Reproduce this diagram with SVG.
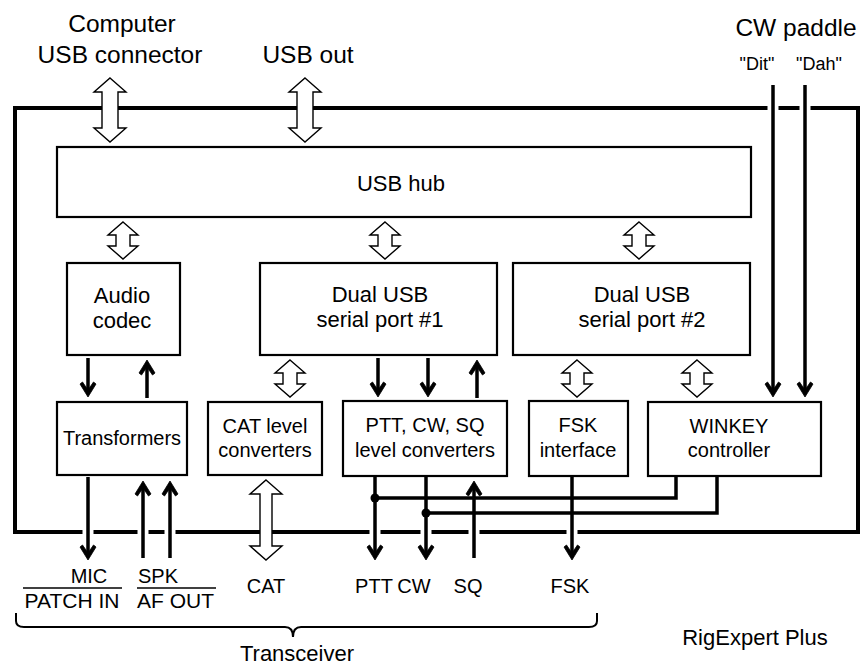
<svg xmlns="http://www.w3.org/2000/svg" width="863" height="668" viewBox="0 0 863 668">
<style>
text{font-family:"Liberation Sans",Arial,sans-serif;fill:#000;text-anchor:middle}
.t1{font-size:24.5px}
.t2{font-size:22px}
.t3{font-size:20px}
.t4{font-size:18px}
.box{fill:#fff;stroke:#000;stroke-width:2.2}
.outer{fill:none;stroke:#000;stroke-width:4}
.hol{fill:#fff;stroke:#000;stroke-width:1.4;stroke-linejoin:miter}
.w{fill:none;stroke:#000;stroke-width:3.5}
.gap{stroke:#fff;stroke-width:11}
.brace{fill:none;stroke:#000;stroke-width:2}
</style>
<defs>
<marker id="ah" markerUnits="userSpaceOnUse" markerWidth="20" markerHeight="20" viewBox="-12 -10 20 20" refX="0" refY="0" orient="auto">
<path d="M5,0 L-8,-8 L-10,-5.5 L-2,0 L-10,5.5 L-8,8 Z" fill="#000" stroke="#000" stroke-width="0.8"/>
</marker>
<path id="big" d="M0,0 L16,14 L8,14 L8,50 L16,50 L0,64 L-16,50 L-8,50 L-8,14 L-16,14 Z"/>
<path id="small" d="M0,0 L15,13 L7,13 L7,24 L15,24 L0,37 L-15,24 L-7,24 L-7,13 L-15,13 Z"/>
</defs>

<g id="frame">
<rect class="outer" x="15" y="108" width="843" height="424"/>
<line class="gap" x1="773" y1="102" x2="773" y2="114"/>
<line class="gap" x1="805" y1="102" x2="805" y2="114"/>
<line class="gap" x1="88" y1="526" x2="88" y2="538"/>
<line class="gap" x1="143" y1="526" x2="143" y2="538"/>
<line class="gap" x1="170" y1="526" x2="170" y2="538"/>
<line class="gap" x1="375" y1="526" x2="375" y2="538"/>
<line class="gap" x1="426" y1="526" x2="426" y2="538"/>
<line class="gap" x1="474" y1="526" x2="474" y2="538"/>
<line class="gap" x1="572" y1="526" x2="572" y2="538"/>
<text class="t2" x="755" y="645">RigExpert Plus</text>
</g>

<g id="usb-hub">
<rect class="box" x="57" y="147" width="694" height="70"/>
<text class="t2" x="401" y="191">USB hub</text>
</g>
<g id="audio-codec">
<rect class="box" x="67" y="263" width="113" height="92"/>
<text class="t2" x="122" y="303">Audio</text>
<text class="t2" x="122" y="328">codec</text>
</g>
<g id="serial1">
<rect class="box" x="260" y="263" width="237" height="92"/>
<text class="t2" x="380" y="302">Dual USB</text>
<text class="t2" x="380" y="327">serial port #1</text>
</g>
<g id="serial2">
<rect class="box" x="513" y="263" width="237" height="92"/>
<text class="t2" x="642" y="302">Dual USB</text>
<text class="t2" x="642" y="327">serial port #2</text>
</g>
<g id="transformers">
<rect class="box" x="57" y="402" width="130" height="73"/>
<text class="t3" x="122" y="445">Transformers</text>
</g>
<g id="cat-conv">
<rect class="box" x="208" y="402" width="114" height="73"/>
<text class="t3" x="265" y="433">CAT level</text>
<text class="t3" x="265" y="457">converters</text>
</g>
<g id="ptt-conv">
<rect class="box" x="343" y="401" width="164" height="75"/>
<text class="t3" x="425" y="432">PTT, CW, SQ</text>
<text class="t3" x="425" y="457">level converters</text>
</g>
<g id="fsk">
<rect class="box" x="529" y="401" width="99" height="75"/>
<text class="t3" x="578" y="432">FSK</text>
<text class="t3" x="578" y="457">interface</text>
</g>
<g id="winkey">
<rect class="box" x="648" y="402" width="173" height="74"/>
<text class="t3" x="729" y="433">WINKEY</text>
<text class="t3" x="729" y="457">controller</text>
</g>

<g id="connectors">
<use href="#big" class="hol" x="110" y="78"/>
<use href="#big" class="hol" x="305" y="78"/>
<use href="#small" class="hol" x="123" y="222"/>
<use href="#small" class="hol" x="385" y="222"/>
<use href="#small" class="hol" x="639" y="222"/>
<use href="#small" class="hol" x="290" y="360"/>
<use href="#small" class="hol" x="577" y="360"/>
<use href="#small" class="hol" x="697" y="360"/>
<path class="hol" d="M266,480 L282,494 L272,494 L272,546 L282,546 L266,560 L250,546 L260,546 L260,494 L250,494 Z"/>

<line class="w" x1="88" y1="358" x2="88" y2="392" marker-end="url(#ah)"/>
<line class="w" x1="147" y1="398" x2="147" y2="365" marker-end="url(#ah)"/>
<line class="w" x1="378" y1="358" x2="378" y2="392" marker-end="url(#ah)"/>
<line class="w" x1="428" y1="358" x2="428" y2="392" marker-end="url(#ah)"/>
<line class="w" x1="477" y1="398" x2="477" y2="365" marker-end="url(#ah)"/>
<line class="w" x1="773" y1="85" x2="773" y2="392" marker-end="url(#ah)"/>
<line class="w" x1="805" y1="85" x2="805" y2="392" marker-end="url(#ah)"/>

<line class="w" x1="88" y1="477" x2="88" y2="555" marker-end="url(#ah)"/>
<line class="w" x1="143" y1="558" x2="143" y2="486" marker-end="url(#ah)"/>
<line class="w" x1="170" y1="558" x2="170" y2="486" marker-end="url(#ah)"/>
<line class="w" x1="375" y1="477" x2="375" y2="555" marker-end="url(#ah)"/>
<line class="w" x1="426" y1="477" x2="426" y2="555" marker-end="url(#ah)"/>
<line class="w" x1="474" y1="558" x2="474" y2="486" marker-end="url(#ah)"/>
<line class="w" x1="572" y1="477" x2="572" y2="555" marker-end="url(#ah)"/>
<polyline class="w" points="375,498 676,498 676,477"/>
<polyline class="w" points="426,513 717,513 717,477"/>
<circle cx="375" cy="498" r="4.5" fill="#000"/>
<circle cx="426" cy="513" r="4.5" fill="#000"/>
</g>

<g id="labels">
<text class="t1" x="122" y="32">Computer</text>
<text class="t1" x="120" y="63">USB connector</text>
<text class="t1" x="308" y="63">USB out</text>
<text class="t1" x="796" y="36">CW paddle</text>
<text class="t4" x="757" y="70">"Dit"</text>
<text class="t4" x="819" y="70">"Dah"</text>
<text class="t3" x="89" y="583">MIC</text>
<line x1="23" y1="588" x2="122" y2="588" stroke="#000" stroke-width="1.5"/>
<text class="t3" x="72" y="608" style="font-size:21px">PATCH IN</text>
<text class="t3" x="138" y="583" style="text-anchor:start">SPK</text>
<line x1="137" y1="588" x2="216" y2="588" stroke="#000" stroke-width="1.5"/>
<text class="t3" x="137" y="608" style="text-anchor:start;font-size:21px">AF OUT</text>
<text class="t3" x="266" y="593">CAT</text>
<text class="t3" x="374" y="593">PTT</text>
<text class="t3" x="414" y="593">CW</text>
<text class="t3" x="468" y="593">SQ</text>
<text class="t3" x="570" y="593">FSK</text>
<path class="brace" d="M16,613 L16,621 Q16,627 24,627 L285,627 Q293,627 293,637 Q293,627 301,627 L589,627 Q597,627 597,621 L597,613"/>
<text class="t2" x="297" y="661">Transceiver</text>
</g>
</svg>
